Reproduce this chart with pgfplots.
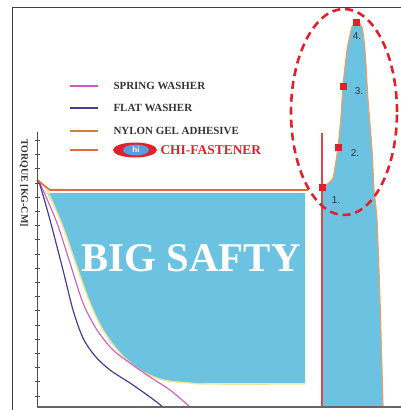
\documentclass[border=0pt]{standalone}
\usepackage{fontspec}
\setmainfont{Liberation Serif}
\newfontfamily\sansf{Liberation Sans}
\usepackage{pgfplots}
\pgfplotsset{compat=1.18}
\definecolor{skyb}{HTML}{6BC3E1}
\definecolor{chior}{HTML}{E8683A}
\definecolor{nylon}{HTML}{E9A262}
\definecolor{nylonleg}{HTML}{C8823C}
\definecolor{pinkc}{HTML}{D45AB8}
\definecolor{purp}{HTML}{4A3A9A}
\definecolor{yel}{HTML}{EDE49A}
\definecolor{dred}{HTML}{E3202A}
\definecolor{vred}{HTML}{E04848}
\definecolor{txt}{HTML}{333333}
\begin{document}
\begin{tikzpicture}
\begin{axis}[name=ax, scale only axis, width=401bp, height=410bp,
  xmin=0, xmax=401, ymin=0, ymax=410, y dir=reverse, axis lines=none, clip=true]
% frame
\addplot[black!75, line width=0.8pt] coordinates {(12,412) (12,7) (405,7)};
% big blue region
\addplot[fill=skyb, draw=none] coordinates {
 (45,193) (305,193) (305,383) (210,383) (190,383) (175,382) (163,380) (150,376) (140,370) (130,363) (120,353)
 (110,342) (103,330) (96,317) (90,303) (83,285) (77,267) (70,247) (63,227) (55,208) (47,193)} -- cycle;
% peak blue region
\addplot[fill=skyb, draw=none] coordinates {
 (322,406) (322,190) (333,178) (338,147) (341,117) (343,86) (347,50) (352,27)
 (357,22) (362,27) (365,50) (368,100) (372,150) (374,190) (377,220) (380,300) (383,406)} -- cycle;
% nylon curve (yellow edge)
\addplot[yel, line width=1.4pt, smooth, tension=0.5] coordinates {
 (38,180) (47,190) (63,227) (77,267) (90,303) (103,330) (120,353) (140,370)
 (163,380) (190,383) (210,384) (305,384)};
% spring washer
\addplot[pinkc, line width=1.1pt, smooth, tension=0.5] coordinates {
 (38,180) (43,190) (57,223) (70,263) (83,303) (97,330) (113,350) (130,363)
 (150,377) (170,390) (190,407)};
% flat washer
\addplot[purp, line width=1.2pt, smooth, tension=0.5] coordinates {
 (37,180) (40,185) (50,220) (63,270) (73,310) (83,338) (95,356) (110,370)
 (130,383) (150,397) (163,407)};
% chi-fastener horizontal
\addplot[chior, line width=1.6pt] coordinates {(37,180) (50,190) (308,190)};
% peak outline
\addplot[nylon, line width=1.2pt, smooth, tension=0.4] coordinates {
 (324,186) (333,178) (338,147) (341,117) (343,86) (347,50) (352,27)
 (357,22) (362,27) (365,50) (368,100) (372,150) (374,190) (377,220) (380,300) (383,407)};
% red vertical
\addplot[vred, line width=1.3pt] coordinates {(322,133) (322,407)};
% markers
\addplot[only marks, mark=square*, mark size=2.8pt, color=dred] coordinates {
 (322,187) (338,147) (343,86) (356,22)};
% axes
\addplot[black!60, line width=1.4pt] coordinates {(37,407) (401,407)};
\addplot[black!70, line width=0.9pt] coordinates {(37,132) (37,407)};
\pgfplotsinvokeforeach{0,...,18}{
  \draw[black!70, line width=0.8pt] (axis cs:34.5,{396-14.2*#1}) -- (axis cs:39.5,{396-14.2*#1});
}
% legend samples
\addplot[pinkc, line width=1.5pt] coordinates {(70,86) (98,86)};
\addplot[purp, line width=2pt] coordinates {(70,108) (98,108)};
\addplot[nylonleg, line width=1.6pt] coordinates {(70,131) (98,131)};
\addplot[chior, line width=2.2pt] coordinates {(70,150) (98,150)};
% ellipse
\draw[dred, line width=2.6pt, dash pattern=on 8pt off 5pt] (axis cs:344,112) ellipse [x radius=53bp, y radius=103bp];
% logo
\fill[dred] (axis cs:135,150) ellipse [x radius=22bp, y radius=7.5bp];
\fill[skyb!80!blue] (axis cs:136,150) ellipse [x radius=13bp, y radius=5.5bp];
\node[white, font=\sansf\bfseries\fontsize{8}{8}\selectfont] at (axis cs:136,150) {hi};
% texts
\node[anchor=west, txt, font=\bfseries\fontsize{11}{12}\selectfont] at (axis cs:110,86) {SPRING WASHER};
\node[anchor=west, txt, font=\bfseries\fontsize{11}{12}\selectfont] at (axis cs:110,108) {FLAT WASHER};
\node[anchor=west, txt, font=\bfseries\fontsize{11}{12}\selectfont] at (axis cs:110,131) {NYLON GEL ADHESIVE};
\node[anchor=west, dred, font=\bfseries\fontsize{13.5}{14}\selectfont] at (axis cs:157,150) {CHI-FASTENER};
\node[white, font=\bfseries\fontsize{41}{43}\selectfont] at (axis cs:191,258) {BIG SAFTY};
\node[rotate=-90, txt, font=\bfseries\fontsize{10}{11}\selectfont] at (axis cs:24,183) {TORQUE [KG-CM]};
\node[txt, font=\sansf\fontsize{10}{10}\selectfont] at (axis cs:336,200) {1.};
\node[txt, font=\sansf\fontsize{10}{10}\selectfont] at (axis cs:355,153) {2.};
\node[txt, font=\sansf\fontsize{10}{10}\selectfont] at (axis cs:359,91) {3.};
\node[txt, font=\sansf\fontsize{10}{10}\selectfont] at (axis cs:357,36) {4.};
\end{axis}
\pgfresetboundingbox
\path (ax.south west) rectangle (ax.north east);
\end{tikzpicture}
\end{document}
